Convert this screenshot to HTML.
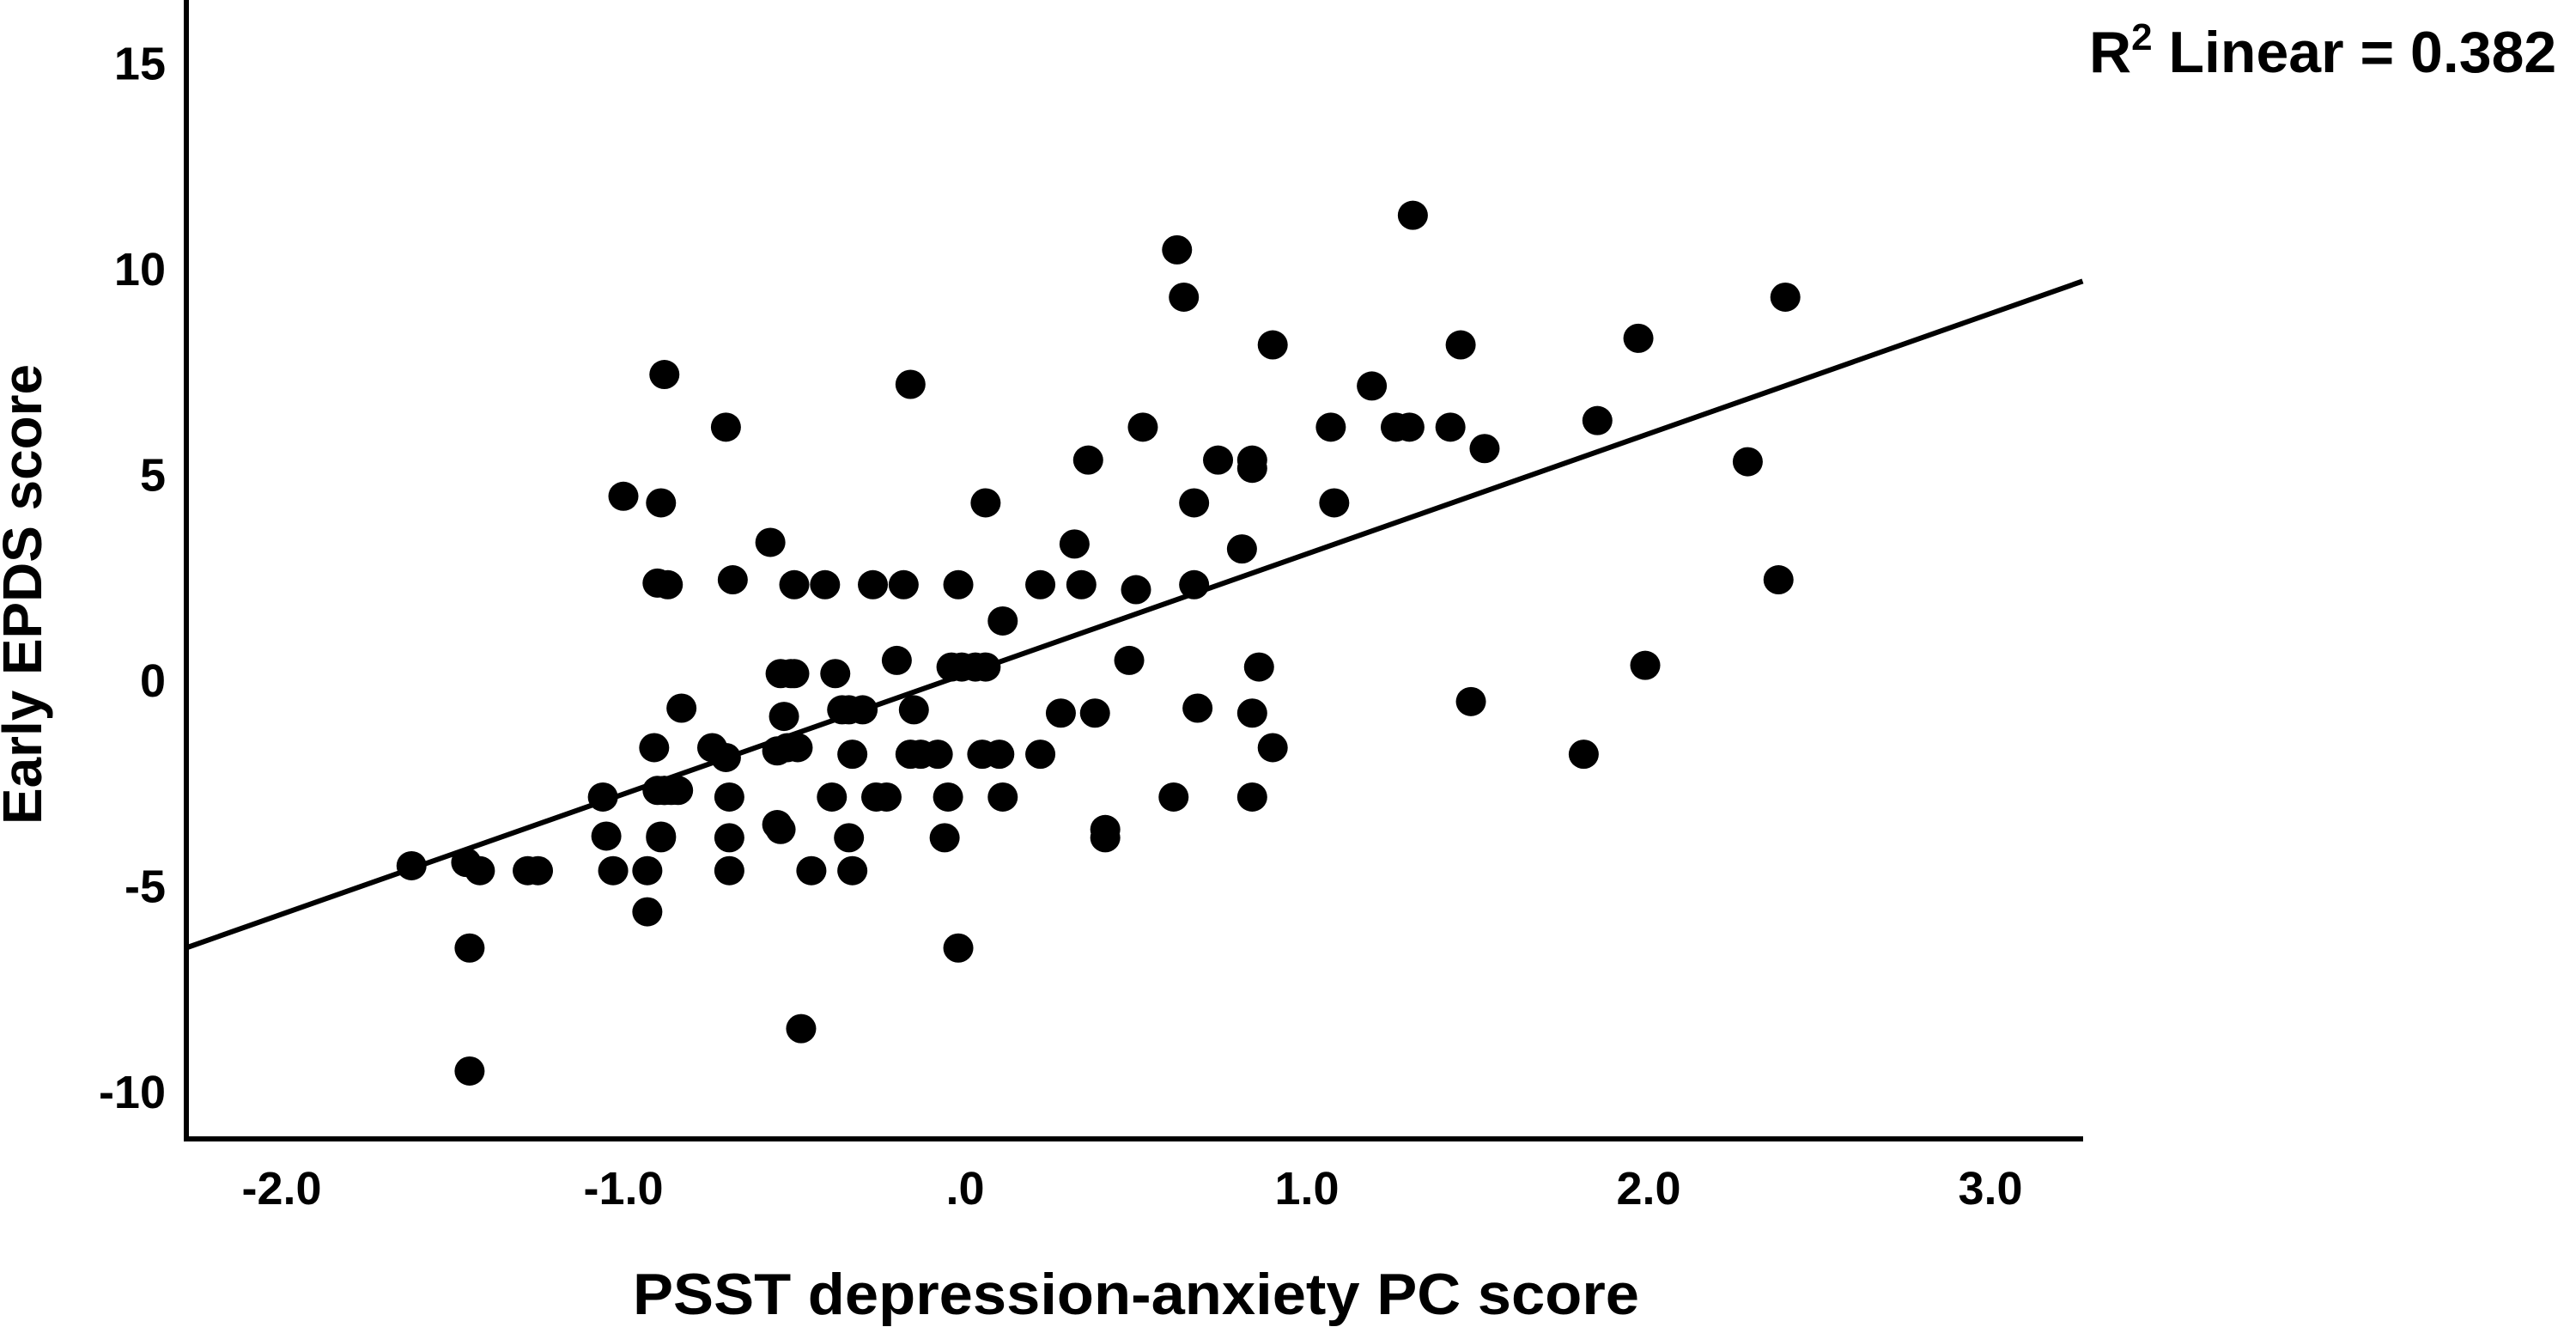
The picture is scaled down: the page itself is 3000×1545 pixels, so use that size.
<!DOCTYPE html>
<html><head><meta charset="utf-8"><style>
html,body{margin:0;padding:0;background:#fff;}
svg{display:block;font-family:"Liberation Sans",Arial,sans-serif;}
</style></head><body>
<svg id="chart" width="3000" height="1545" viewBox="0 0 3000 1545" xmlns="http://www.w3.org/2000/svg">
</svg>
<script>
const xTicks=[-2,-1,0,1,2,3];
const xTickLabels=["-2.0","-1.0",".0","1.0","2.0","3.0"];
const yTicks=[-10,-5,0,5,10,15];
const yTickLabels=["-10","-5","0","5","10","15"];
const xVals=[-1.62,-1.46,-1.42,-1.45,-1.45,-1.28,-1.25,-1.06,-1.05,-1.03,-0.93,-0.93,-0.91,-0.90,-0.89,-0.88,-0.86,-0.84,-0.88,-0.89,-0.90,-0.88,-1.00,-0.89,-0.87,-0.83,-0.74,-0.70,-0.69,-0.69,-0.69,-0.70,-0.68,-0.57,-0.54,-0.51,-0.53,-0.55,-0.55,-0.54,-0.52,-0.49,-0.50,-0.50,-0.48,-0.45,-0.41,-0.39,-0.38,-0.36,-0.34,-0.33,-0.34,-0.33,-0.30,-0.26,-0.27,-0.23,-0.20,-0.18,-0.16,-0.15,-0.16,-0.13,-0.08,-0.06,-0.05,-0.04,-0.02,-0.01,-0.02,0.03,0.05,0.06,0.06,0.10,0.11,0.11,0.22,0.22,0.28,0.32,0.34,0.36,0.38,0.41,0.41,0.48,0.50,0.52,0.61,0.62,0.64,0.67,0.67,0.68,0.74,0.81,0.84,0.84,0.84,0.84,0.86,0.90,0.90,1.07,1.08,1.19,1.26,1.30,1.31,1.42,1.45,1.48,1.52,1.81,1.85,1.97,1.99,2.29,2.38,2.40];
const yVals=[-4.55,-4.47,-4.67,-6.55,-9.54,-4.67,-4.67,-2.88,-3.83,-4.67,-4.67,-5.67,-1.68,-2.72,-3.83,-2.72,-2.72,-2.72,-2.72,-3.87,2.32,7.39,4.43,4.27,2.28,-0.72,-1.68,-1.92,-2.88,-3.87,-4.67,6.11,2.40,3.31,0.12,0.12,-0.92,-1.76,-3.55,-3.67,-1.68,-1.68,2.28,0.12,-8.51,-4.67,2.28,-2.88,0.12,-0.76,-0.76,-1.84,-3.87,-4.67,-0.76,-2.88,2.28,-2.88,0.44,2.28,-1.84,-0.76,7.15,-1.84,-1.84,-3.87,-2.88,0.28,2.28,0.28,-6.55,0.28,-1.84,4.27,0.28,-1.84,1.40,-2.88,2.28,-1.84,-0.84,3.27,2.28,5.31,-0.84,-3.67,-3.87,0.44,2.16,6.11,-2.88,10.42,9.27,4.27,2.28,-0.72,5.31,3.15,5.31,5.11,-0.84,-2.88,0.28,-1.68,8.11,6.11,4.27,7.11,6.11,6.11,11.26,6.11,8.11,-0.56,5.59,-1.84,6.27,8.27,0.32,5.27,2.40,9.27];
const fitIntercept=0.11, fitSlope=2.92;
const xMin=-2.28,xMax=3.27;

const NS="http://www.w3.org/2000/svg";
const svg=document.getElementById('chart');
const X=v=>1124+v*398;
const Y=v=>790-v*47.9;
function mk(tag,attrs,parent){const e=document.createElementNS(NS,tag);for(const k in attrs)e.setAttribute(k,attrs[k]);(parent||svg).appendChild(e);return e;}

const pts=mk('g',{});


xVals.forEach((xv,i)=>{
  const c=mk('ellipse',{cx:X(xv),cy:Y(yVals[i]),rx:17.5,ry:17,fill:'#000'},pts);
  
  
});
const fl=mk('line',{x1:X(xMin),y1:Y(fitIntercept+fitSlope*xMin),x2:X(xMax),y2:Y(fitIntercept+fitSlope*xMax),stroke:'#000','stroke-width':6});


const ya=mk('line',{x1:217,y1:0,x2:217,y2:1329,stroke:'#000','stroke-width':6});


const xa=mk('line',{x1:214,y1:1326,x2:2426,y2:1326,stroke:'#000','stroke-width':6});


xTicks.forEach((t,i)=>{
  const tx=mk('text',{x:X(t),y:1402,'text-anchor':'middle','font-size':54,'font-weight':'bold',fill:'#000'});
  tx.textContent=xTickLabels[i];
  
  
});
yTicks.forEach((t,i)=>{
  const tx=mk('text',{x:193,y:Y(t)+21,'text-anchor':'end','font-size':54,'font-weight':'bold',fill:'#000'});
  tx.textContent=yTickLabels[i];
  
  
});
const xt=mk('text',{x:737,y:1530,'font-size':68,'font-weight':'bold',fill:'#000',textLength:1172,lengthAdjust:'spacingAndGlyphs'});
xt.textContent='PSST depression-anxiety PC score';


const yt=mk('text',{x:0,y:0,'font-size':64,'font-weight':'bold',fill:'#000',textLength:536,lengthAdjust:'spacingAndGlyphs',transform:'translate(48,960) rotate(-90)'});
yt.textContent='Early EPDS score';


const r2=mk('text',{x:2433,y:84,'font-size':68,'font-weight':'bold',fill:'#000'});
r2.innerHTML='R<tspan dy="-26" font-size="44">2</tspan><tspan dy="26">  Linear = 0.382</tspan>';


</script>
</body></html>
